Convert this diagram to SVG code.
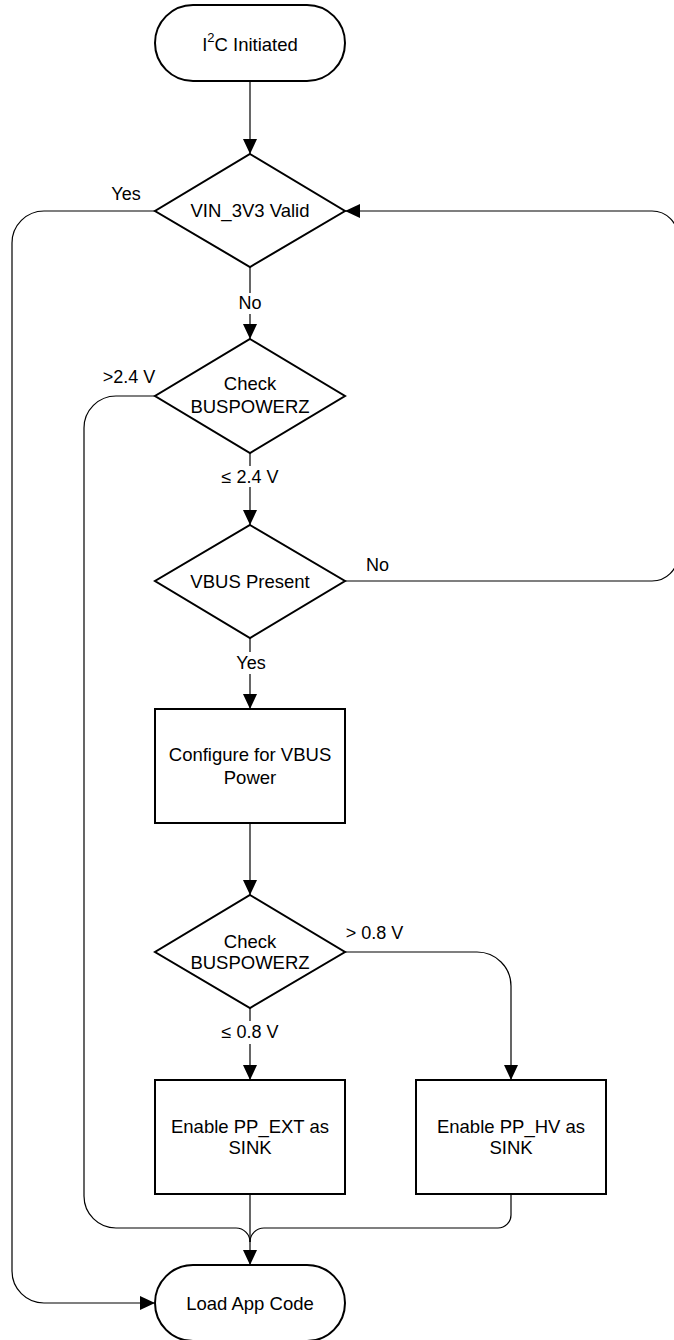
<svg xmlns="http://www.w3.org/2000/svg" width="674" height="1340" viewBox="0 0 674 1340">
<defs>
<style>
.shape{fill:#fff;stroke:#000;stroke-width:2}
.conn{fill:none;stroke:#000;stroke-width:1.2}
.t{font-family:"Liberation Sans",Arial,sans-serif;font-size:18.5px;fill:#000;text-anchor:middle}
.lbl{font-family:"Liberation Sans",Arial,sans-serif;font-size:18px;fill:#000}
.bg{fill:#fff;stroke:none}
</style>
<marker id="arr" markerUnits="userSpaceOnUse" markerWidth="15" markerHeight="14" refX="15" refY="7" orient="auto">
<path d="M0,0 L15,7 L0,14 Z" fill="#000"/>
</marker>
</defs>
<rect width="674" height="1340" fill="#fff"/>

<g id="connectors">
<path class="conn" d="M250,81 V154" marker-end="url(#arr)"/>
<path class="conn" d="M155,211 H44 A32,32 0 0 0 12,243 V1271 A32,32 0 0 0 44,1303 H155" marker-end="url(#arr)"/>
<path class="conn" d="M250,267 V339" marker-end="url(#arr)"/>
<path class="conn" d="M155,396 H116 A32,32 0 0 0 84,428 V1196 A32,32 0 0 0 116,1228 H236 A14,14 0 0 1 250,1242"/>
<path class="conn" d="M250,453 V525" marker-end="url(#arr)"/>
<path class="conn" d="M345,581 H652 A26,26 0 0 0 678,555 V237 A26,26 0 0 0 652,211 H345" marker-end="url(#arr)"/>
<path class="conn" d="M250,638 V709" marker-end="url(#arr)"/>
<path class="conn" d="M250,823 V895" marker-end="url(#arr)"/>
<path class="conn" d="M345,952 H477 A34,34 0 0 1 511,986 V1080" marker-end="url(#arr)"/>
<path class="conn" d="M250,1008 V1080" marker-end="url(#arr)"/>
<path class="conn" d="M250,1194 V1265" marker-end="url(#arr)"/>
<path class="conn" d="M511,1194 V1215 A13,13 0 0 1 498,1228 H264 A14,14 0 0 0 250,1242"/>
</g>

<g id="labels">
<text class="lbl" x="126" y="200" text-anchor="middle">Yes</text>
<rect class="bg" x="236" y="293" width="28" height="21"/>
<text class="lbl" x="250" y="309" text-anchor="middle">No</text>
<text class="lbl" x="129" y="383" text-anchor="middle">&gt;2.4 V</text>
<rect class="bg" x="218" y="466" width="64" height="21"/>
<text class="lbl" x="250" y="482.5" text-anchor="middle">≤ 2.4 V</text>
<text class="lbl" x="377.5" y="571" text-anchor="middle">No</text>
<rect class="bg" x="232" y="652" width="36" height="22"/>
<text class="lbl" x="251" y="669" text-anchor="middle">Yes</text>
<text class="lbl" x="374.5" y="939" text-anchor="middle">&gt; 0.8 V</text>
<rect class="bg" x="218" y="1021" width="64" height="23"/>
<text class="lbl" x="250" y="1038" text-anchor="middle">≤ 0.8 V</text>
</g>

<g id="start">
<rect class="shape" x="155" y="5" width="190" height="76" rx="38" ry="38"/>
<text class="t" x="250" y="50.5">I<tspan font-size="13px" dy="-9">2</tspan><tspan dy="9">C Initiated</tspan></text>
</g>

<g id="vin_valid">
<polygon class="shape" points="250,154 345,211 250,267 155,211"/>
<text class="t" x="250" y="217">VIN_3V3 Valid</text>
</g>

<g id="check_buspowerz_1">
<polygon class="shape" points="250,339 345,396 250,453 155,396"/>
<text class="t" x="250" y="390">Check</text>
<text class="t" x="250" y="413">BUSPOWERZ</text>
</g>

<g id="vbus_present">
<polygon class="shape" points="250,525 345,581 250,638 155,581"/>
<text class="t" x="250" y="587.5">VBUS Present</text>
</g>

<g id="configure_vbus">
<rect class="shape" x="155" y="709" width="190" height="114"/>
<text class="t" x="250" y="761">Configure for VBUS</text>
<text class="t" x="250" y="783.5">Power</text>
</g>

<g id="check_buspowerz_2">
<polygon class="shape" points="250,895 345,952 250,1008 155,952"/>
<text class="t" x="250" y="947.5">Check</text>
<text class="t" x="250" y="969">BUSPOWERZ</text>
</g>

<g id="enable_pp_ext">
<rect class="shape" x="155" y="1080" width="190" height="114"/>
<text class="t" x="250" y="1132.5">Enable PP_EXT as</text>
<text class="t" x="250" y="1153.5">SINK</text>
</g>

<g id="enable_pp_hv">
<rect class="shape" x="416" y="1080" width="190" height="114"/>
<text class="t" x="511" y="1132.5">Enable PP_HV as</text>
<text class="t" x="511" y="1153.5">SINK</text>
</g>

<g id="load_app_code">
<rect class="shape" x="155" y="1265" width="190" height="76" rx="38" ry="38"/>
<text class="t" x="250" y="1310">Load App Code</text>
</g>
</svg>
